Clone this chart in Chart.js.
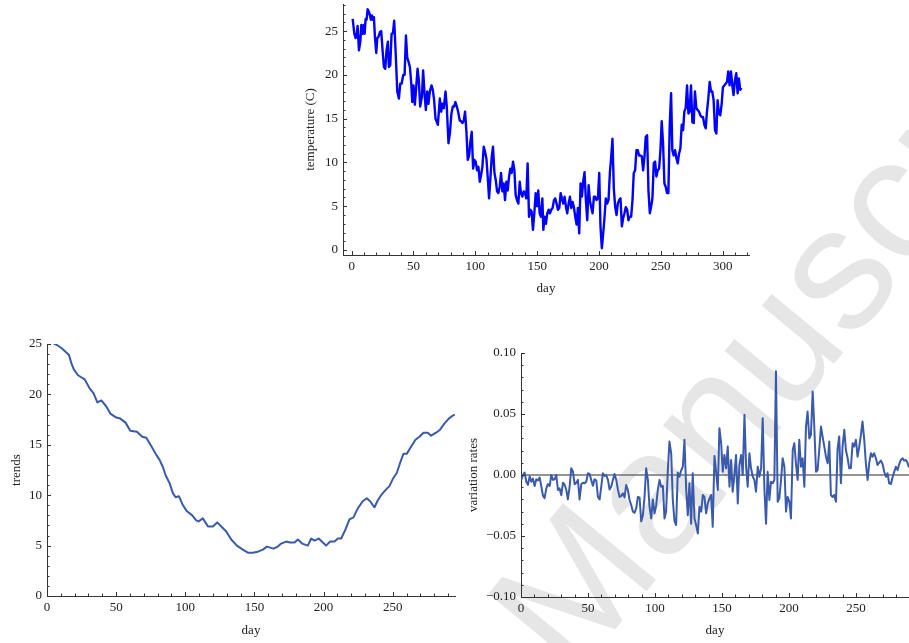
<!DOCTYPE html>
<html>
<head>
<meta charset="utf-8">
<script src="https://cdn.jsdelivr.net/npm/chart.js@4.4.1/dist/chart.umd.min.js"></script>
<style>
body { margin: 0; background: #fff; }
#page { position: relative; width: 909px; height: 643px; overflow: hidden; }
canvas { position: absolute; }
#mark { position: absolute; left: 458px; top: 587px; transform-origin: 0 0; transform: rotate(-50.5deg);
        font: 175px "Liberation Sans", sans-serif; line-height: 1; color: #e6e6e6; white-space: nowrap; }
</style>
</head>
<body>
<div id="page">
  <div id="mark">Manuscript</div>
  <canvas id="temp" width="470" height="300" style="left:290px;top:0"></canvas>
  <canvas id="trend" width="470" height="313" style="left:0;top:330px"></canvas>
  <canvas id="rate" width="449" height="313" style="left:460px;top:330px"></canvas>
</div>
<script>
// daily temperature (top)
const tempDays = [0.8,2.2,3.2,4.0,4.8,5.9,7.0,7.8,8.9,9.7,
  10.5,11.3,12.1,12.9,14.0,14.8,15.6,16.4,17.2,18.0,
  18.8,19.9,20.7,21.8,22.9,23.9,25.0,26.1,27.2,28.2,
  29.3,30.1,31.2,32.3,33.4,34.4,35.5,36.9,38.2,39.3,
  40.4,41.7,42.8,43.9,44.9,46.0,47.1,48.2,49.0,50.0,
  51.1,52.2,53.3,54.3,55.4,56.8,57.8,58.9,60.0,61.1,
  62.1,63.2,64.6,65.6,66.7,67.8,69.7,71.3,72.4,73.4,
  74.5,75.9,76.9,78.3,79.4,80.7,81.8,82.9,83.9,85.0,
  86.1,87.4,88.5,89.6,90.7,91.7,92.8,93.9,95.0,96.0,
  97.1,98.2,99.3,100.3,101.4,102.5,103.6,104.7,105.7,106.8,
  107.9,109.0,110.0,111.1,112.2,113.3,114.3,115.4,116.5,117.6,
  118.6,119.7,120.8,121.9,122.9,124.0,125.1,126.2,127.3,128.3,
  129.4,130.5,131.6,132.6,133.7,134.8,135.9,136.9,138.0,139.1,
  140.2,141.2,142.3,143.4,144.5,145.5,146.6,147.7,148.8,149.9,
  150.9,152.0,153.1,154.2,155.0,156.0,157.1,158.2,159.3,160.3,
  161.4,162.5,163.6,164.6,165.7,166.8,167.9,169.0,170.0,171.1,
  172.2,173.3,174.3,175.4,176.5,177.6,178.6,179.7,180.8,181.9,
  182.9,184.0,185.1,186.2,187.2,188.3,189.4,190.5,191.6,192.6,
  193.7,194.8,195.9,196.9,198.0,199.1,200.2,201.2,202.3,203.4,
  204.5,205.5,206.6,207.7,208.8,209.8,210.9,212.0,213.1,214.2,
  215.2,216.3,217.4,218.5,219.5,220.6,221.7,222.8,223.8,224.9,
  226.0,227.1,228.1,229.2,230.3,231.4,232.4,233.5,234.6,235.7,
  236.8,237.8,238.9,240.0,241.1,242.1,243.2,244.3,245.4,246.4,
  247.5,248.6,249.7,250.7,251.8,252.9,254.0,255.0,256.1,257.2,
  258.3,259.3,260.4,261.5,262.6,263.7,264.7,265.8,266.9,268.0,
  269.0,270.1,271.2,272.3,273.3,274.4,275.5,276.6,277.6,278.7,
  279.8,280.9,281.9,283.0,284.1,285.2,286.3,287.3,288.4,289.5,
  290.6,291.6,292.7,293.8,294.9,295.9,297.0,298.1,299.2,300.2,
  301.3,302.4,303.5,304.5,305.6,306.7,307.8,308.8,309.9,311.0,
  312.1,313.1,314.2,315.3];
const tempValues = [26.4,24.7,24.2,24.4,25.6,22.8,23.8,25.7,24.7,25.7,
  24.7,26.4,26.3,27.5,27.2,26.8,26.3,26.8,26.3,26.6,
  24.4,22.5,24.2,24.4,24.9,25.0,22.8,20.9,20.7,22.8,
  23.8,20.9,21.1,24.7,24.8,26.2,22.8,18.1,17.3,19.0,
  19.0,20.0,20.0,24.5,22.0,21.5,20.9,19.0,16.9,18.8,
  16.6,18.6,20.7,19.4,16.4,17.5,20.5,17.9,16.0,18.1,
  16.7,18.1,18.8,18.3,17.1,15.0,14.3,17.3,15.8,16.7,
  16.2,18.1,16.4,12.2,13.3,15.6,16.4,16.4,16.9,16.4,
  15.8,14.8,14.7,14.5,14.8,15.8,13.5,10.3,10.8,12.4,
  13.5,9.3,10.3,10.1,9.1,9.5,7.8,8.6,9.5,11.8,
  11.2,10.4,8.4,5.9,8.2,10.7,11.8,8.9,8.0,6.7,
  6.5,7.2,8.8,6.7,7.6,5.7,7.8,6.8,8.4,9.3,
  8.8,10.1,9.1,6.3,5.7,5.3,7.8,6.5,6.1,6.7,
  6.5,5.9,9.9,3.8,4.6,4.4,2.3,4.2,6.5,5.0,
  6.8,4.2,3.8,5.9,2.3,3.8,3.0,4.2,4.6,4.2,
  4.6,4.8,5.7,5.9,5.3,4.6,4.8,6.5,5.9,5.3,
  6.1,4.9,4.2,5.3,6.1,4.8,5.5,4.9,3.8,2.9,
  4.8,1.9,7.6,6.1,7.8,8.9,5.7,3.4,7.4,5.7,
  4.9,4.2,6.1,6.1,5.7,5.9,8.8,2.7,0.2,1.9,
  3.8,5.9,5.3,5.7,8.8,10.5,12.7,7.0,4.9,4.0,
  5.3,5.7,5.9,2.7,3.6,4.2,4.9,4.6,3.4,3.8,
  3.8,5.7,8.8,9.1,11.4,11.4,10.8,10.8,10.7,9.1,
  10.7,12.9,13.1,6.8,4.2,4.9,5.9,9.9,10.1,8.4,
  9.1,9.3,11.4,14.7,12.2,7.6,7.2,6.5,6.5,14.3,
  17.9,11.4,10.8,11.4,10.5,9.9,11.0,11.6,14.3,13.7,
  15.8,16.2,18.8,15.6,15.8,18.8,14.6,14.5,18.1,16.2,
  16.0,15.8,15.4,15.2,15.2,14.3,13.9,15.8,17.3,19.2,
  18.1,18.1,17.1,13.7,13.3,17.1,15.6,15.4,16.7,18.6,
  18.8,19.0,19.2,20.4,18.8,20.4,18.8,17.7,19.4,20.2,
  17.9,19.6,18.3,18.5];

// smoothed trend (bottom left)
const trendDays = [4.3,7.2,10.4,12.8,15.9,17.6,19.3,22.4,27.2,30.8,
  33.7,36.4,39.3,42.9,45.8,50.1,53.0,56.8,60.2,65.0,
  68.9,71.8,76.1,79.0,81.4,83.8,85.7,88.6,91.0,93.0,
  95.4,98.3,101.2,105.0,107.9,109.6,112.7,116.4,119.9,123.1,
  126.0,129.6,133.2,137.3,141.6,145.2,148.8,152.5,156.1,159.0,
  161.4,163.8,166.9,169.3,172.9,175.8,179.0,181.4,184.5,188.6,
  191.0,193.4,196.5,199.4,201.8,204.7,207.9,210.3,212.7,215.8,
  218.7,221.6,224.7,228.3,231.2,233.6,236.8,239.2,241.6,244.7,
  247.6,250.0,252.9,255.3,257.7,260.1,263.2,266.4,269.3,272.2,
  275.3,277.7,281.3,284.2,287.3,290.5,293.4,294.8];
const trendValues = [25.1,24.9,24.6,24.3,23.9,23.1,22.5,21.9,21.5,20.6,
  20.1,19.2,19.4,18.8,18.1,17.7,17.6,17.2,16.4,16.3,
  15.8,15.7,14.7,14.0,13.5,12.8,12.0,11.2,10.2,9.8,
  9.9,9.0,8.4,8.0,7.5,7.4,7.7,6.9,6.9,7.3,
  6.9,6.4,5.6,5.0,4.6,4.3,4.3,4.4,4.6,4.9,
  4.8,4.7,4.9,5.2,5.4,5.3,5.3,5.6,5.2,5.0,
  5.7,5.5,5.7,5.3,5.0,5.4,5.4,5.7,5.7,6.6,
  7.6,7.8,8.7,9.4,9.7,9.4,8.8,9.5,10.0,10.5,
  10.9,11.6,12.2,13.2,14.1,14.1,14.8,15.5,15.8,16.2,
  16.2,15.9,16.2,16.5,17.1,17.6,17.9,18.0];

// variation rates (bottom right)
const rateDays = [0.2,1.5,2.7,4.0,5.2,6.5,7.7,8.9,10.2,11.4,
  12.7,13.9,15.2,16.4,17.6,18.9,20.1,21.4,22.6,23.9,
  25.1,26.3,27.6,28.8,30.1,31.3,32.6,33.8,35.0,36.3,
  37.5,38.8,40.0,41.3,42.5,43.7,45.0,46.2,47.5,48.7,
  50.0,51.2,52.4,53.7,54.9,56.2,57.4,58.7,59.9,61.1,
  62.4,63.6,64.9,66.1,67.3,68.6,69.8,71.1,72.3,73.6,
  74.8,76.0,77.3,78.5,79.8,81.0,82.3,83.5,84.7,86.0,
  87.2,88.5,89.7,91.0,92.2,93.4,94.7,95.9,97.2,98.4,
  99.7,100.9,102.1,103.4,104.6,105.9,107.1,108.3,109.6,110.8,
  112.1,113.3,114.6,115.8,117.0,118.3,119.5,120.8,122.0,123.3,
  124.5,125.7,127.0,128.2,129.5,130.7,132.0,133.2,134.5,135.7,
  136.9,138.2,139.4,140.7,141.9,143.1,144.4,145.6,146.9,148.1,
  149.4,150.6,151.8,153.1,154.3,155.6,156.8,158.0,159.3,160.5,
  161.8,163.0,164.3,165.5,166.8,168.0,169.2,170.5,171.7,173.0,
  174.2,175.4,176.7,177.9,179.2,180.4,181.7,182.9,184.1,185.4,
  186.6,187.9,189.1,190.3,191.6,192.8,194.1,195.3,196.6,197.8,
  199.0,200.3,201.5,202.8,204.0,205.2,206.5,207.7,209.0,210.2,
  211.5,212.7,213.9,215.2,216.4,217.7,218.9,220.2,221.4,222.6,
  223.9,225.1,226.4,227.6,228.9,230.1,231.3,232.6,233.8,235.1,
  236.3,237.5,238.8,240.0,241.3,242.5,243.8,245.0,246.2,247.5,
  248.7,250.0,251.2,252.5,253.7,254.9,256.2,257.4,258.7,259.9,
  261.2,262.4,263.6,264.9,266.1,267.4,268.6,269.9,271.1,272.4,
  273.6,274.8,276.1,277.3,278.6,279.8,281.1,282.3,283.5,284.8,
  286.0,287.3,288.5,289.5];
const rateValues = [-0.004,0,0.002,-0.0055,-0.008,-0.001,-0.0055,-0.003,-0.009,-0.0035,
  -0.0045,-0.002,-0.0096,-0.017,-0.019,-0.011,-0.0075,-0.009,0,-0.004,
  -0.0035,0,-0.0123,-0.011,-0.0165,-0.0063,-0.008,-0.0123,-0.02,-0.0096,
  0.0055,0.0027,-0.0075,-0.0063,-0.004,-0.02,-0.0075,-0.0063,-0.0068,-0.0055,
  0.0014,0.0008,-0.004,-0.0088,-0.0035,-0.0045,-0.018,-0.02,-0.0096,0.0014,
  -0.0008,0,-0.004,-0.0118,-0.0096,-0.004,0.0008,-0.004,-0.0118,-0.018,
  -0.0173,-0.015,-0.0184,-0.0082,-0.0123,-0.0205,-0.0247,-0.030,-0.031,-0.0274,
  -0.018,-0.0184,-0.038,-0.033,-0.018,0.0055,-0.004,-0.026,-0.0356,-0.02,
  -0.0315,-0.0247,-0.0123,-0.004,-0.0096,-0.009,-0.0356,-0.030,0.0041,0.0274,
  0.0178,-0.0205,-0.038,-0.041,0.002,-0.0014,0.0036,0.0068,0.0288,-0.0123,
  -0.033,-0.0068,-0.040,0.0014,-0.0356,-0.041,-0.048,-0.026,-0.030,-0.0164,
  -0.018,-0.0315,-0.0233,-0.0192,-0.0164,-0.0425,0.0156,0.0027,-0.0123,0.0384,
  0.026,0.0027,0.0164,0.0055,0.0233,-0.0096,0.0123,-0.0137,0,0.0164,
  -0.0233,0.0082,0.0164,0,0.0493,0.0068,-0.0096,0.0178,0.0055,-0.0014,
  -0.004,-0.0137,0.0068,-0.0014,0.0055,0.0466,-0.0123,-0.040,0.0027,-0.0205,
  -0.0055,-0.0068,-0.004,0.085,-0.0219,-0.0192,-0.004,0.0137,0.0068,-0.030,
  -0.018,-0.0219,-0.0356,0.0205,0.026,0.0096,-0.004,0.0288,0.0068,0.0137,
  -0.0096,0.0397,0.052,0.030,0.0329,0.0685,0.0397,0.0027,0.0041,0.0205,
  0.0397,0.0315,0.0233,0.015,0.0096,0.0274,-0.0164,-0.018,-0.0164,-0.0219,
  0.0219,0.0315,-0.0068,0.0233,0.037,0.0205,0.0137,0.0055,0.0055,0.026,
  0.0233,0.0288,0.015,0.0233,0.0329,0.0438,0.0288,0.0096,-0.004,0.0096,
  0.0178,0.015,0.0178,0.0137,0.0082,0.0101,0.0118,0.009,0.0027,-0.0014,
  0.0014,-0.0068,-0.0074,-0.002,0.0027,0.0068,0.0041,0.009,0.0123,0.0137,
  0.0118,0.0123,0.0101,0.0063];

// tick labels
const tempXTicks = [0, 50, 100, 150, 200, 250, 300];
const tempYTicks = [0, 5, 10, 15, 20, 25];
const dayTicks = [0, 50, 100, 150, 200, 250];
const trendYTicks = [0, 5, 10, 15, 20, 25];
const rateYTicks = [-0.1, -0.05, 0, 0.05, 0.1];
const rateYLabels = ['\u22120.10', '\u22120.05', '0.00', '0.05', '0.10'];

const axisColor = '#333';
const labelColor = '#222';
const font = { family: 'Liberation Serif', size: 13 };

// Mathematica-style ticks: short marks pointing into the plot, minor + major
function tickMarks(o) {
  return {
    id: 'tickMarks',
    afterDatasetsDraw(chart) {
      const { ctx, chartArea: a, scales: { x, y } } = chart;
      ctx.save();
      ctx.strokeStyle = axisColor;
      ctx.lineWidth = 1;
      ctx.beginPath();
      const each = (scale, minor, major, fn) => {
        for (let i = Math.ceil(scale.min / minor - 1e-9); i * minor <= scale.max + 1e-9; i++) {
          const v = i * minor;
          const r = v / major;
          fn(scale.getPixelForValue(v), Math.abs(r - Math.round(r)) < 1e-6 ? 4 : 2.5);
        }
      };
      each(x, o.xMinor, o.xMajor, (p, len) => {
        const px = Math.round(p) + 0.5;
        ctx.moveTo(px, a.bottom); ctx.lineTo(px, a.bottom - len);
      });
      each(y, o.yMinor, o.yMajor, (p, len) => {
        const py = Math.round(p) + 0.5;
        ctx.moveTo(a.left, py); ctx.lineTo(a.left + len, py);
      });
      ctx.stroke();
      ctx.restore();
    }
  };
}

const zeroLine = {
  id: 'zeroLine',
  beforeDatasetsDraw(chart) {
    const { ctx, chartArea: a, scales: { y } } = chart;
    const py = y.getPixelForValue(0);
    ctx.save();
    ctx.strokeStyle = '#707070';
    ctx.lineWidth = 1.4;
    ctx.beginPath();
    ctx.moveTo(a.left, py); ctx.lineTo(a.right, py);
    ctx.stroke();
    ctx.restore();
  }
};

function buildChart(id, xs, ys, o) {
  const n = Math.min(xs.length, ys.length);
  const pts = xs.slice(0, n).map((d, i) => ({ x: d, y: ys[i] }));
  return new Chart(document.getElementById(id), {
    type: 'line',
    data: {
      datasets: [{
        data: pts,
        borderColor: o.color,
        borderWidth: o.width,
        borderJoinStyle: 'round',
        pointRadius: 0,
        tension: 0,
        fill: false
      }]
    },
    options: {
      responsive: false,
      animation: false,
      events: [],
      layout: { padding: o.pad },
      plugins: { legend: { display: false }, tooltip: { enabled: false } },
      scales: {
        x: {
          type: 'linear', min: o.xMin, max: o.xMax,
          grid: { display: false, drawTicks: false },
          border: { display: true, color: axisColor, width: 1 },
          afterBuildTicks: s => { s.ticks = o.xTicks.map(v => ({ value: v })); },
          afterFit: s => { s.height = o.xH; s.paddingLeft = 0; s.paddingRight = 0; },
          ticks: { font, color: labelColor, padding: 4, maxRotation: 0, autoSkip: false,
                   callback: (v, i) => o.xLabels[i] },
          title: { display: true, text: 'day', font, color: labelColor,
                   padding: { top: 0, bottom: o.xTitlePad } }
        },
        y: {
          type: 'linear', min: o.yMin, max: o.yMax,
          grid: { display: false, drawTicks: false },
          border: { display: true, color: axisColor, width: 1 },
          afterBuildTicks: s => { s.ticks = o.yTicks.map(v => ({ value: v })); },
          afterFit: s => { s.width = o.yW; s.paddingTop = 0; s.paddingBottom = 0; },
          ticks: { font, color: labelColor, padding: 5, autoSkip: false,
                   callback: (v, i) => o.yLabels[i] },
          title: { display: true, text: o.yTitle, font, color: labelColor,
                   padding: { top: o.yTitlePad, bottom: 0 } }
        }
      }
    },
    plugins: [tickMarks(o)].concat(o.extra || [])
  });
}

buildChart('temp', tempDays, tempValues, {
  color: '#0000ff', width: 2.4,
  pad: { left: 0, right: 11, top: 4, bottom: 0 },
  xMin: -7, xMax: 321.3, xTicks: tempXTicks, xLabels: tempXTicks.map(String), xMinor: 10, xMajor: 50,
  yMin: -0.57, yMax: 28.1, yTicks: tempYTicks, yLabels: tempYTicks.map(String), yMinor: 1, yMajor: 5,
  xH: 45, yW: 53, xTitlePad: 4, yTitle: 'temperature (C)', yTitlePad: 13
});

buildChart('trend', trendDays, trendValues, {
  color: '#3a5aab', width: 2,
  pad: { left: 0, right: 15, top: 14, bottom: 0 },
  xMin: 0, xMax: 295, xTicks: dayTicks, xLabels: dayTicks.map(String), xMinor: 10, xMajor: 50,
  yMin: 0, yMax: 25, yTicks: trendYTicks, yLabels: trendYTicks.map(String), yMinor: 1, yMajor: 5,
  xH: 47, yW: 47, xTitlePad: 5, yTitle: 'trends', yTitlePad: 9
});

buildChart('rate', rateDays, rateValues, {
  color: '#3a5aab', width: 2,
  pad: { left: 0, right: 0, top: 23, bottom: 0 },
  xMin: 0, xMax: 289.6, xTicks: dayTicks, xLabels: dayTicks.map(String), xMinor: 10, xMajor: 50,
  yMin: -0.1, yMax: 0.1, yTicks: rateYTicks, yLabels: rateYLabels, yMinor: 0.01, yMajor: 0.05,
  xH: 46, yW: 61, xTitlePad: 5, yTitle: 'variation rates', yTitlePad: 6,
  extra: [zeroLine]
});
</script>
</body>
</html>
